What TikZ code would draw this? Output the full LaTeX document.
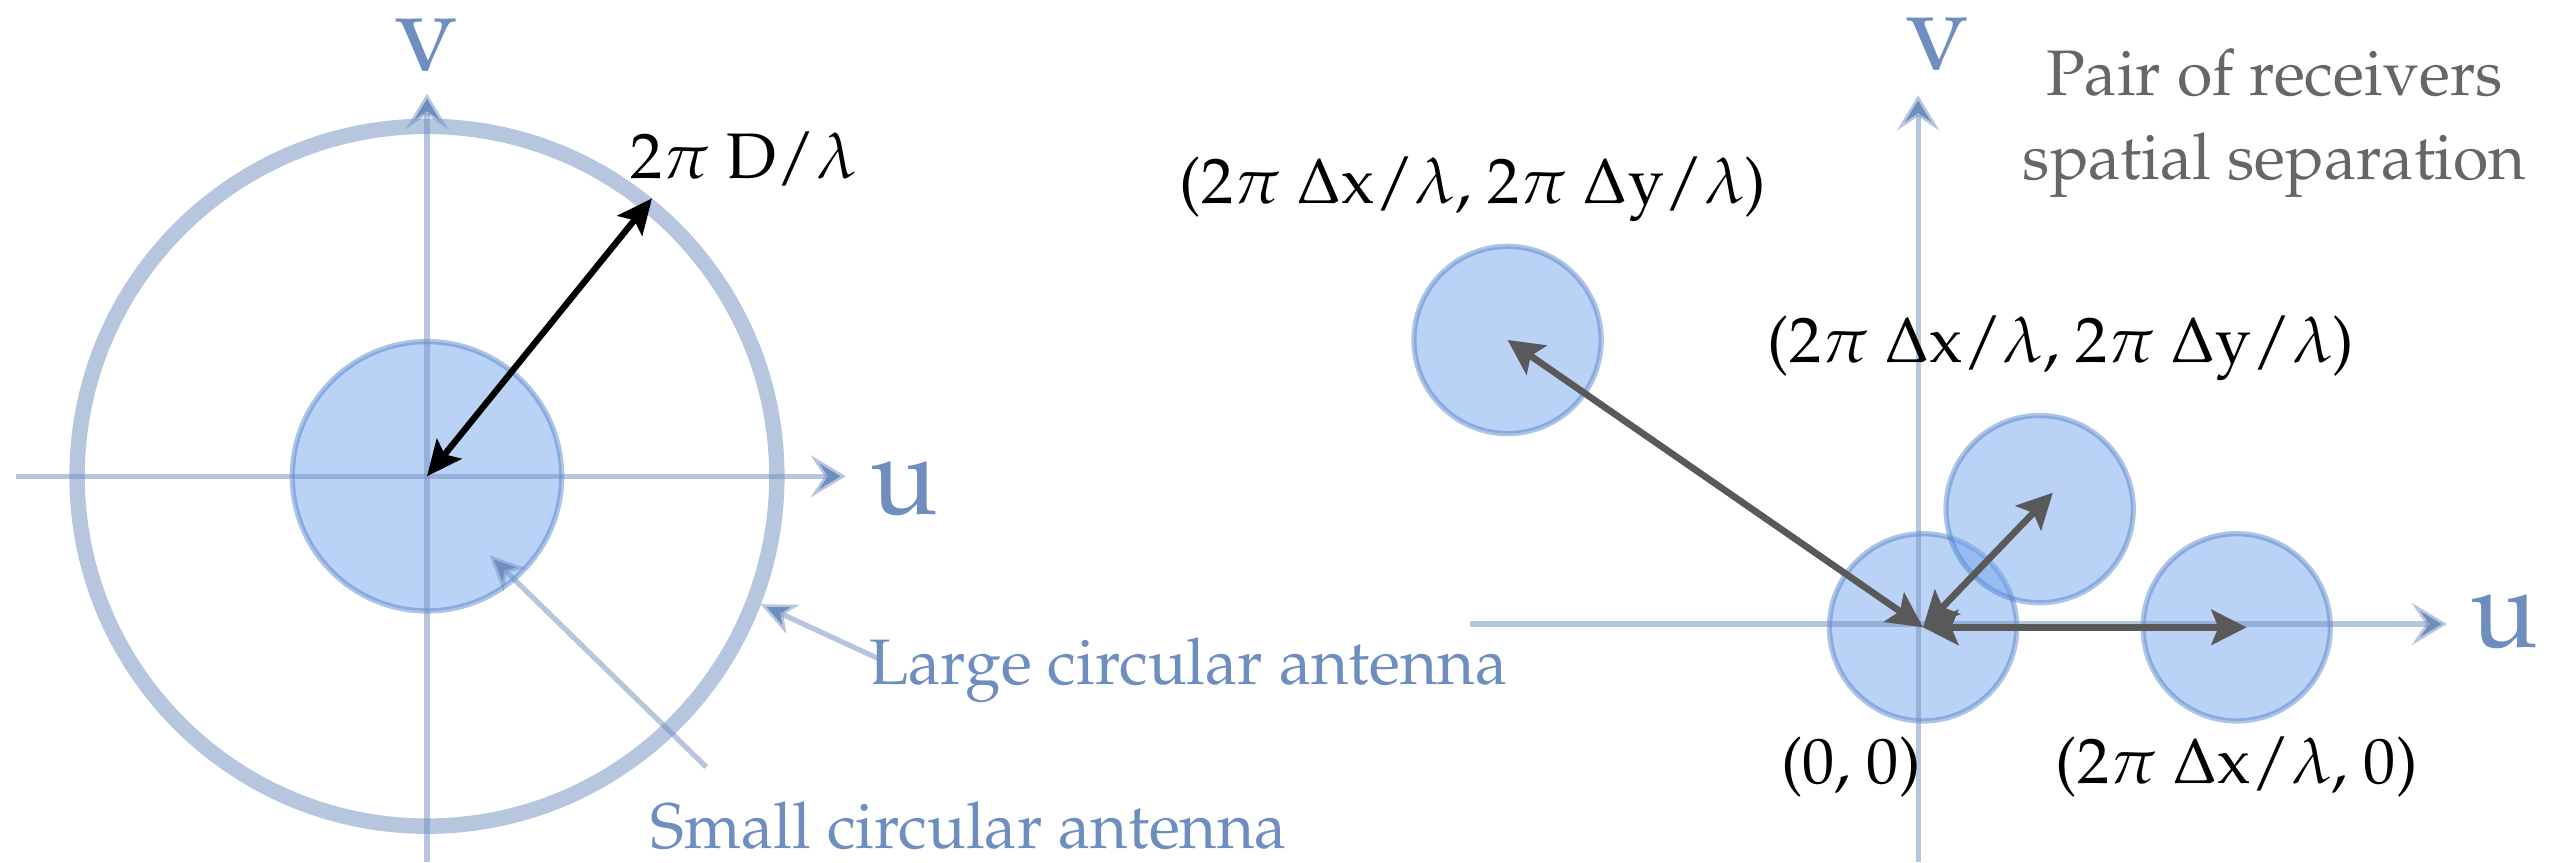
\documentclass[tikz,border=0pt]{standalone}
\usepackage[T1]{fontenc}
\usepackage{mathpazo}
\usepackage{tikz}
\usetikzlibrary{calc,positioning,arrows.meta}
\definecolor{eixo}{HTML}{6F8EC0}
\definecolor{prato}{HTML}{76A6EE}
\definecolor{bordaprato}{HTML}{4A7CC8}
\definecolor{seta}{HTML}{595959}
\definecolor{cinza}{HTML}{666666}
\tikzset{
  eixoseta/.style={eixo,draw opacity=.5,line width=1.5pt,
    -{Stealth[length=10pt,width=12pt,inset=4pt]}},
  nota/.style={eixo,draw opacity=.5,line width=1.5pt,
    -{Stealth[length=10pt,width=9pt,inset=3pt]}},
  anel/.style={circle,draw=eixo,draw opacity=.5,line width=4.4pt,inner sep=0pt},
  prato/.style={circle,fill=prato,fill opacity=.5,draw=bordaprato,draw opacity=.45,
    line width=1.5pt,inner sep=0pt},
  raio/.style={black,line width=1.8pt,
    {Stealth[length=10pt,width=9pt,inset=2pt]}-{Stealth[length=10pt,width=9pt,inset=2pt]}},
  par/.style={seta,line width=1.9pt,
    {Stealth[length=10pt,width=10pt,inset=2pt]}-{Stealth[length=10pt,width=10pt,inset=2pt]}},
  rotulo/.style={inner sep=0pt,font=\fontsize{18.3}{24}\selectfont},
  letra/.style={eixo,inner sep=0pt,font=\fontsize{32}{34}\selectfont},
}
\newcommand{\receptor}[2]{\node[prato,minimum size=1.872cm] (#1) at #2 {};}

\begin{document}
\begin{tikzpicture}[x=0.016422cm,y=-0.016422cm]
  \useasboundingbox (0,0) rectangle (1568,525);
  % left: one antenna
  \node[anel,minimum size=6.996cm] (grande) at (260,290) {};
  \node[prato,minimum size=2.693cm] (pequena) at (260,290) {};
  \coordinate (ue0) at (10,290);
  \coordinate (ue1) at (515,290);
  \coordinate (ve0) at (260,525);
  \coordinate (ve1) at (260,57);
  \draw[eixoseta] (ue0) -- (ue1);
  \draw[eixoseta] (ve0) -- (ve1);
  \node[letra] (ue) at (551,297) {u};
  \node[letra] (ve) at (260,28) {v};
  \draw[raio] (pequena.center) -- (grande.51);
  \node[rotulo] (diam) at (453,97) {2$\pi$ D$/\lambda$};
  \coordinate (gcauda) at (537,402);
  \draw[nota] (gcauda) -- (grande.-21);
  \node[rotulo,eixo,anchor=west] (gtexto) at (529,408) {Large circular antenna};
  \coordinate (pcauda) at (430,467);
  \coordinate (pponta) at (298,338);
  \draw[nota] (pcauda) -- (pponta);
  \node[rotulo,eixo] (ptexto) at (590,503) {Small circular antenna};
  % right: pairs of receivers
  \receptor{r0}{(1171,382)}
  \receptor{ra}{(918,207)}
  \receptor{rb}{(1242,310)}
  \receptor{rc}{(1362,382)}
  \coordinate (ud0) at (895,380);
  \coordinate (ud1) at (1490,380);
  \coordinate (vd0) at (1168,525);
  \coordinate (vd1) at (1168,58);
  \draw[eixoseta] (ud0) -- (ud1);
  \draw[eixoseta] (vd0) -- (vd1);
  \node[letra] (ud) at (1525,378) {u};
  \node[letra] (vd) at (1180,27) {v};
  \draw[par] (r0.center) -- (ra.center);
  \draw[par] (r0.center) -- ($(rb.center)+(8,-10)$);
  \draw[par] (r0.center) -- ($(rc.center)+(6,0)$);
  \node[rotulo] (la) at (897,115) {(2$\pi$ $\Delta$x$/\lambda$, 2$\pi$ $\Delta$y$/\lambda$)};
  \node[rotulo] (lb) at (1255,212) {(2$\pi$ $\Delta$x$/\lambda$, 2$\pi$ $\Delta$y$/\lambda$)};
  \node[rotulo] (l0) at (1127,467) {(0, 0)};
  \node[rotulo] (lc) at (1362,467) {(2$\pi$ $\Delta$x$/\lambda$, 0)};
  \node[rotulo,cinza,align=center] (sep) at (1385,75) {Pair of receivers\\spatial separation};
\end{tikzpicture}
\end{document}
